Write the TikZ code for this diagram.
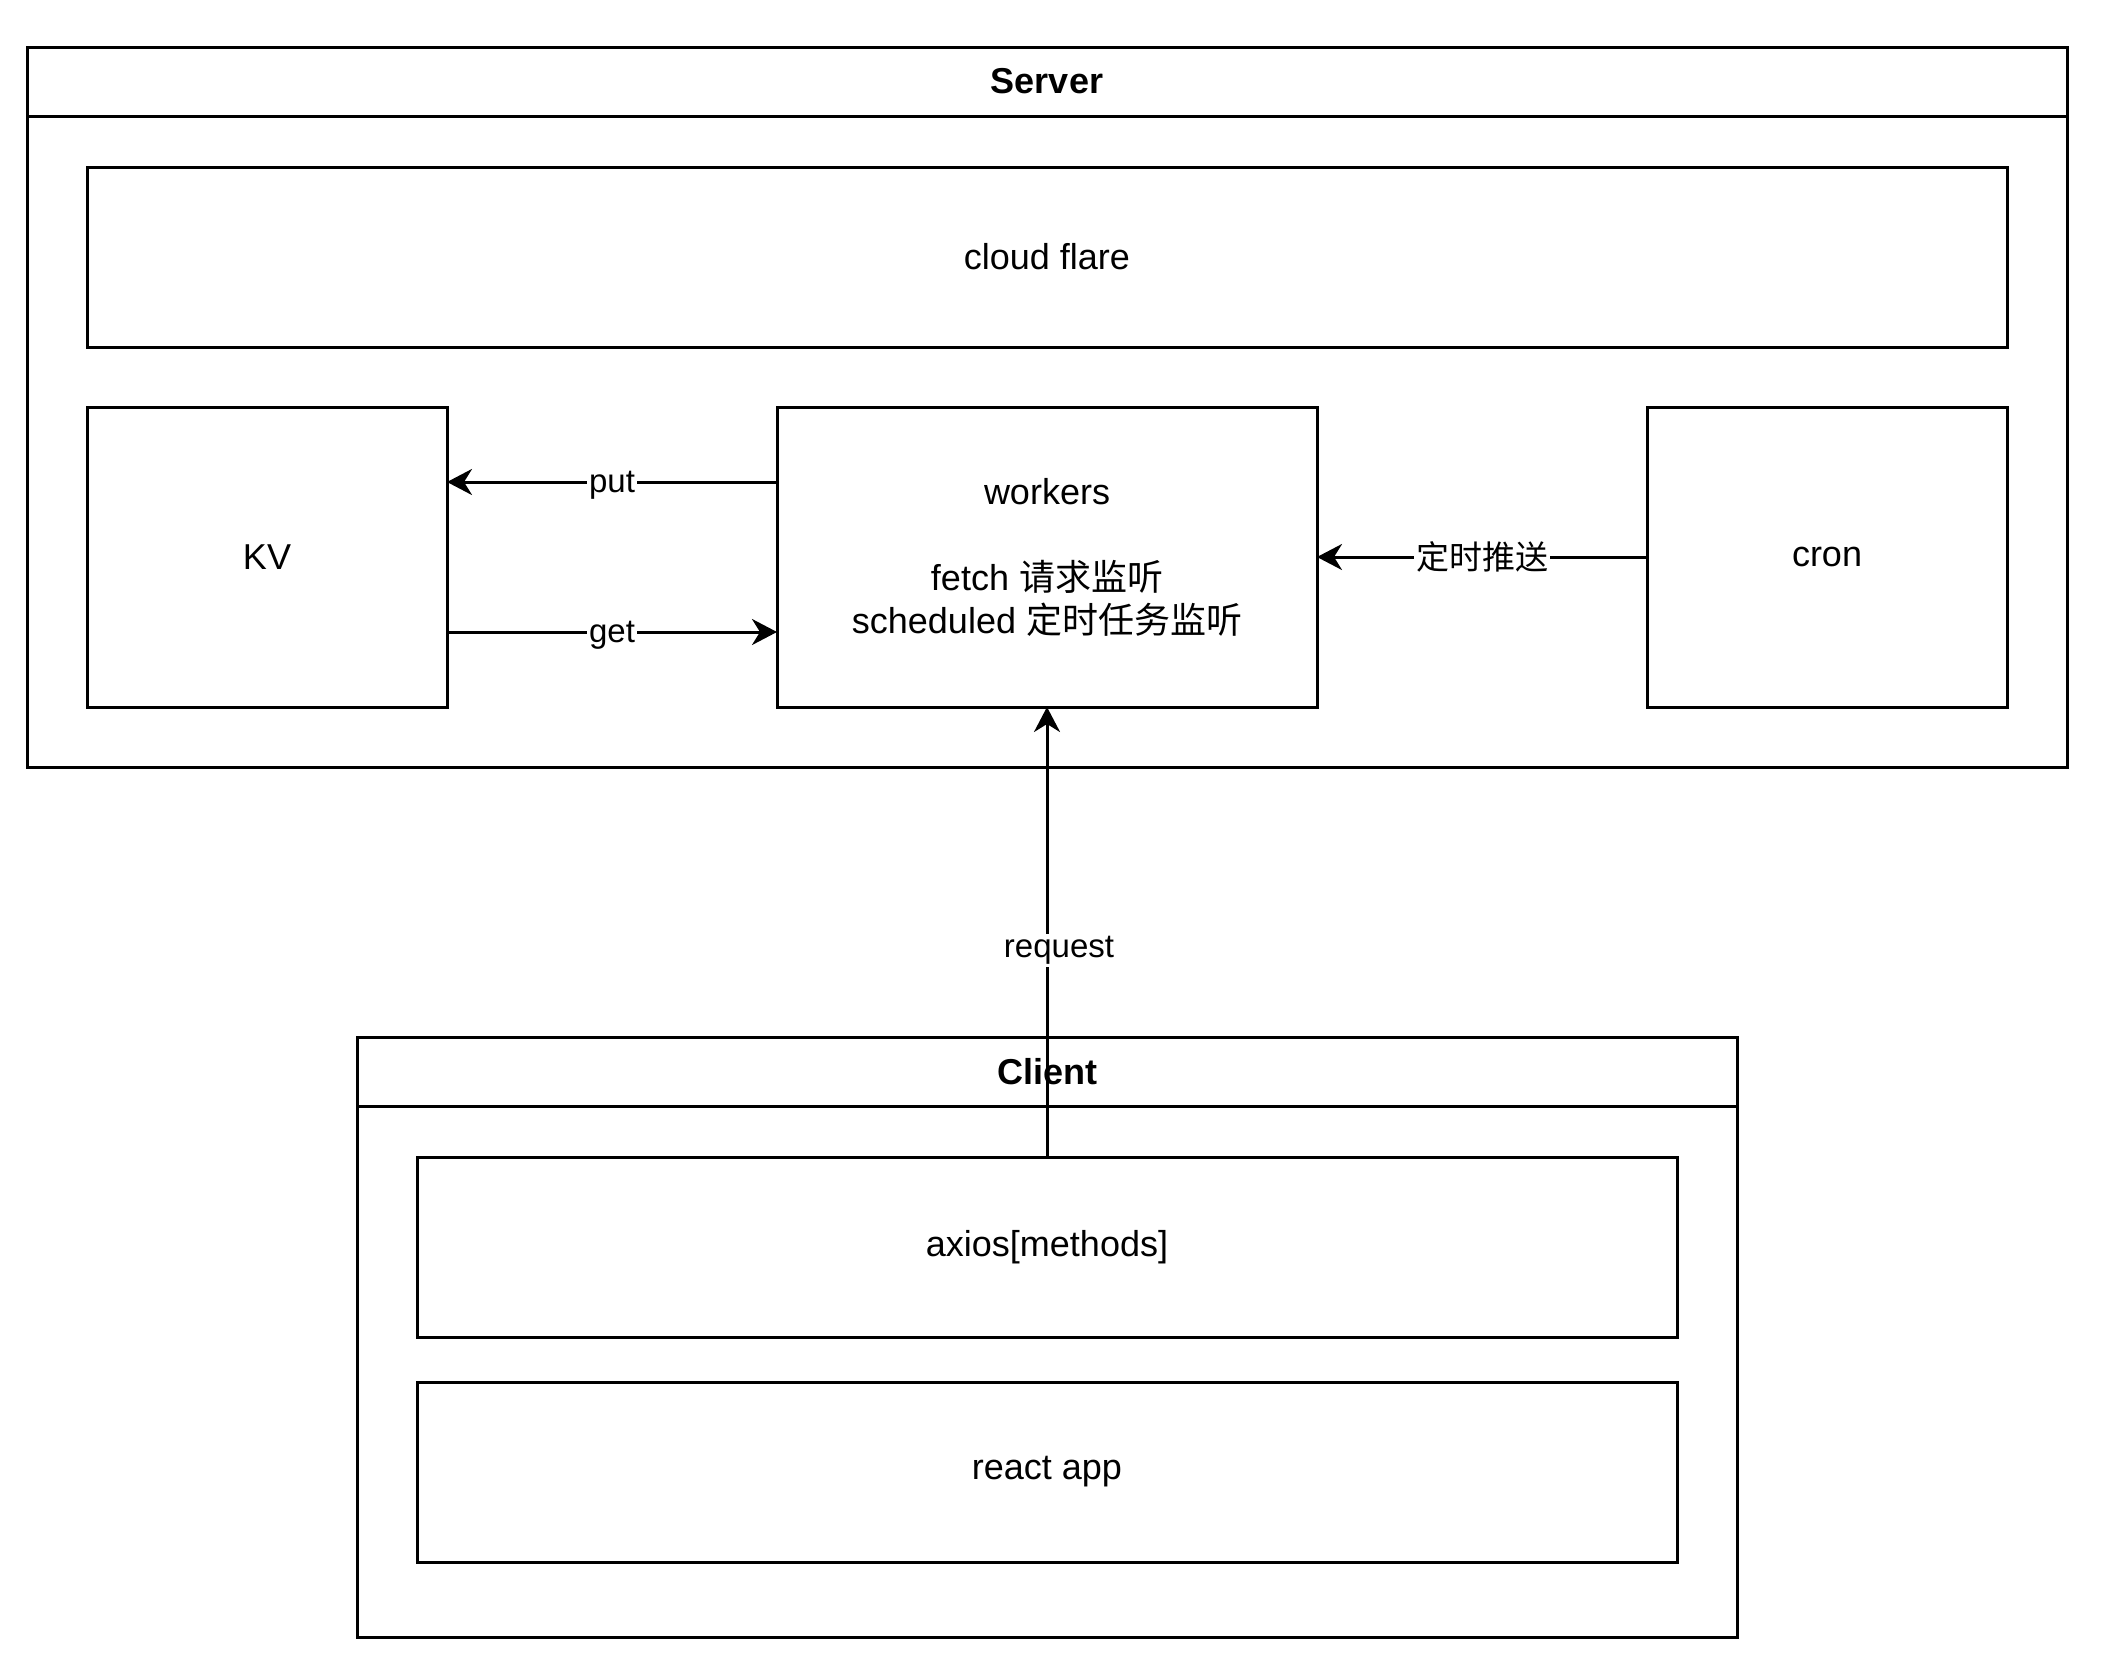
\documentclass[tikz,border=0pt]{standalone}
\usepackage{fontspec}
\setmainfont{Liberation Sans}
\newfontfamily\cjk{Noto Sans CJK SC}
\usetikzlibrary{arrows.meta}
\begin{document}
\begin{tikzpicture}[x=1pt,y=-1pt,
  box/.style={draw, line width=1.5pt, rectangle, inner sep=0pt, outer sep=0pt,
    font=\fontsize{18}{21.5}\selectfont, align=center},
  ttl/.style={font=\fontsize{18}{21.5}\selectfont\bfseries, inner sep=0pt},
  conn/.style={line width=1.5pt, -{Stealth[length=12.5pt,width=13pt,inset=4pt]}},
  elabel/.style={fill=white, inner sep=1pt, font=\fontsize{16.5}{19.8}\selectfont}]
\useasboundingbox (0,0) rectangle (1062,833);
% Server container
\node[box, minimum width=1020pt, minimum height=360pt] (server) at (523.5,203.5) {};
\draw[line width=1.5pt] ([yshift=-34.5pt]server.north west) -- ([yshift=-34.5pt]server.north east);
\node[ttl] (servertitle) at ([yshift=-17.25pt]server.north) {Server};
\node[box, minimum width=960pt, minimum height=90pt] (cloud) at (523.5,128.5) {cloud flare};
\node[box, minimum width=180pt, minimum height=150pt] (kv) at (133.5,278.5) {KV};
\node[box, minimum width=270pt, minimum height=150pt] (workers) at (523.5,278.5)
  {workers\\[21.5pt]fetch {\cjk 请求监听}\\scheduled {\cjk 定时任务监听}};
\node[box, minimum width=180pt, minimum height=150pt] (cron) at (913.5,278.5) {cron};
% Client container
\node[box, minimum width=690pt, minimum height=300pt] (client) at (523.5,668.5) {};
\draw[line width=1.5pt] ([yshift=-34.5pt]client.north west) -- ([yshift=-34.5pt]client.north east);
\node[ttl] (clienttitle) at ([yshift=-17.25pt]client.north) {Client};
\node[box, minimum width=630pt, minimum height=90pt] (axios) at (523.5,623.5) {axios[methods]};
\node[box, minimum width=630pt, minimum height=90pt] (react) at (523.5,736) {react app};
% connectors
\draw[conn] ([yshift=-37.5pt]workers.north west) -- ([yshift=-37.5pt]kv.north east)
  node[elabel, midway, yshift=-1.5pt] {put};
\draw[conn] ([yshift=37.5pt]kv.south east) -- ([yshift=37.5pt]workers.south west)
  node[elabel, midway, yshift=-1.5pt] {get};
\draw[conn] (cron.west) -- (workers.east) node[elabel, midway] {\cjk 定时推送};
\draw[conn] (axios.north) -- (workers.south) node[elabel, pos=0.459, xshift=6pt] {request};
\end{tikzpicture}
\end{document}
